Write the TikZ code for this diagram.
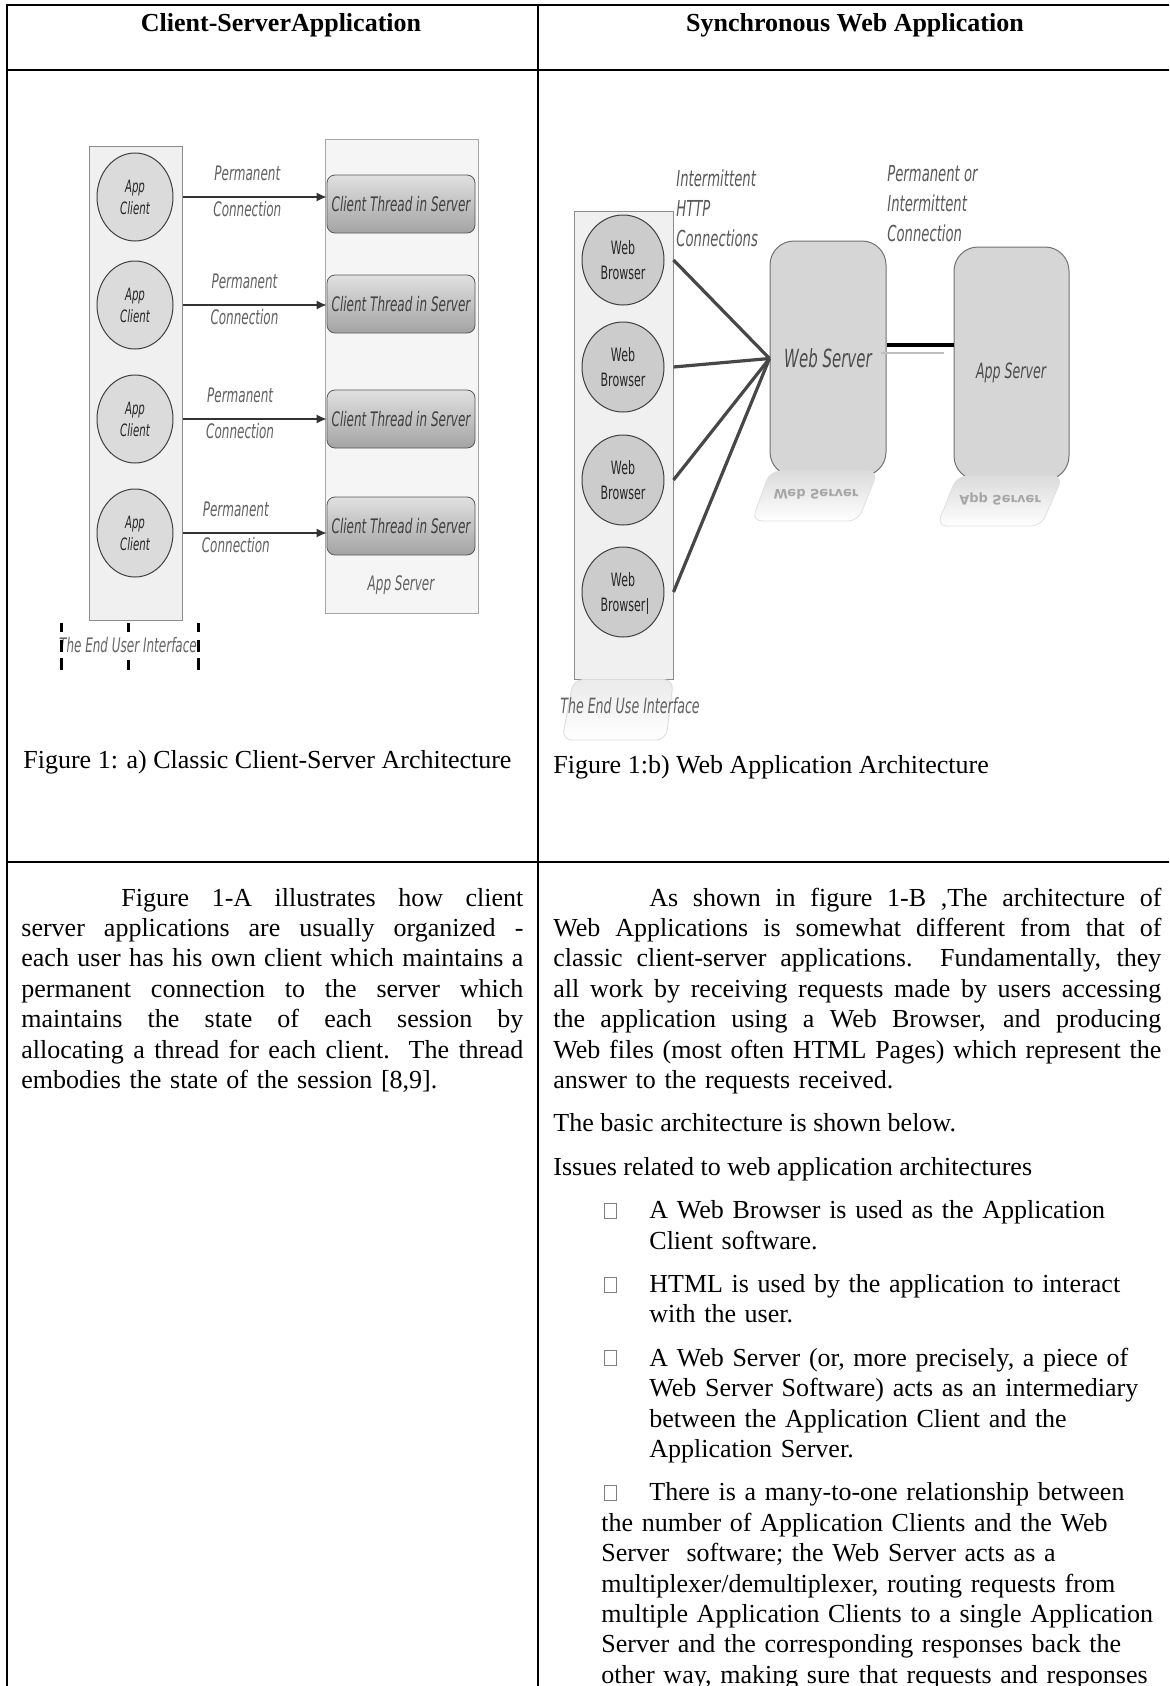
\documentclass[tikz,border=0pt]{standalone}
\usepackage{fontspec}
\setmainfont{Liberation Serif}
\newfontfamily\diafont[FakeStretch=0.6]{DejaVu Sans}
\newfontfamily\ghostfont{DejaVu Sans}
\usetikzlibrary{shapes.geometric,arrows.meta,positioning,calc}
\newcommand{\fullline}[2][251pt]{\makebox[#1][s]{\spaceskip=3.25pt plus 20pt minus 1pt\xspaceskip=\spaceskip #2}\\}
\tikzset{
  rule/.style={line width=1pt, black},
  body/.style={anchor=base west, inner sep=0pt, font=\fontsize{13}{15.2}\selectfont},
  head/.style={inner sep=0pt, font=\bfseries\fontsize{13}{15.2}\selectfont},
  tag/.style={inner sep=0pt, text=black!62, align=left, font=\diafont\itshape\fontsize{10}{15}\selectfont},
  bigtag/.style={tag, anchor=north west, text=black!65, font=\diafont\itshape\fontsize{11}{15}\selectfont},
  column/.style={rectangle, draw=black!45, fill=black!6, line width=0.5pt, inner sep=0pt},
  client/.style={ellipse, draw=black!75, fill=black!14, line width=0.5pt, inner sep=0pt, minimum width=38pt, minimum height=44pt, align=center, text=black!85, font=\diafont\itshape\fontsize{8.5}{11}\selectfont},
  browser/.style={ellipse, draw=black!75, fill=black!20, line width=0.5pt, inner sep=0pt, minimum width=41pt, minimum height=45pt, align=center, text=black!85, font=\diafont\fontsize{9.2}{12.8}\selectfont},
  thread/.style={rectangle, rounded corners=4pt, draw=black!65, top color=black!12, bottom color=black!36, minimum width=74pt, minimum height=29pt, inner sep=0pt, text=black!75, font=\diafont\itshape\fontsize{10}{12}\selectfont},
  link/.style={-{Latex[length=5pt,width=4.5pt]}, black!80, line width=0.6pt},
  http/.style={black!72, line width=1.6pt},
  server/.style={rectangle, rounded corners=12pt, draw=black!55, fill=black!16, line width=0.5pt, inner sep=0pt},
  mirrorpad/.style={rounded corners=5pt, draw=black!12, top color=black!14, bottom color=white, line width=0.4pt},
  ghost/.style={inner sep=0pt, text=black!35, font=\ghostfont\bfseries\fontsize{6.5}{8}\selectfont},
  handle/.style={black, line width=1.5pt},
  bulletbox/.style={draw=black!50, line width=0.35pt, minimum width=6pt, minimum height=7.5pt, inner sep=0pt}
}
\begin{document}
\begin{tikzpicture}[x=0.5pt, y=-0.5pt]
  \useasboundingbox (0,0) rectangle (1169,1686);
  \fill[white] (0,0) rectangle (1169,1686);
  \clip (0,0) rectangle (1169,1686);
  \draw[rule] (1180,5) -- (7,5) -- (7,1700);
  \draw[rule] (538,5) -- (538,1700);
  \draw[rule] (7,70) -- (1180,70);
  \draw[rule] (7,862) -- (1180,862);
  \node[head] (h1) at (281,25) {Client-ServerApplication};
  \node[head] (h2) at (855,25) {Synchronous Web Application};

  \node[column, minimum width=46.5pt, minimum height=236.5pt] (ui) at (135.5,383.5) {};
  \node[column, draw=black!35, fill=black!4, minimum width=76.5pt, minimum height=236.5pt] (appbox) at (401.5,376.5) {};
  \foreach \i/\y in {1/197,2/305,3/419,4/533}
    \node[client] (cli\i) at (135,\y) {App\\Client};
  \foreach \i/\y in {1/204,2/304,3/419,4/526}
    \node[thread] (thr\i) at (401,\y) {Client Thread in Server};
  \foreach \i/\p in {1/0.45,2/0.43,3/0.4,4/0.37}
    \draw[link] (ui.east |- cli\i) -- (thr\i.west |- cli\i)
      node[tag, align=center, pos=\p, yshift=3pt, font=\diafont\itshape\fontsize{10}{18}\selectfont] {Permanent\\Connection};
  \node[tag] (appname) at (401,585) {App Server};
  \node[tag, text=black!60] (uiname) at (128,645) {The End User Interface};
  \draw[handle] (61,623) -- (61,632) (61,640) -- (61,652) (61,658) -- (61,670);
  \draw[handle] (198,623) -- (198,632) (198,640) -- (198,652) (198,658) -- (198,670);
  \draw[handle] (128,623) -- (128,632) (128,660) -- (128,670);

  \node[column, minimum width=49.5pt, minimum height=234pt] (ui2) at (623.5,445) {};
  \draw[mirrorpad, top color=black!8, draw=black!14] (ui2.south west) -- (ui2.south east) -- (666,740) -- (562,740) -- cycle;
  \node[tag, font=\diafont\itshape\fontsize{10.5}{15}\selectfont] (ui2name) at (630,706) {The End Use Interface};
  \foreach \i/\y in {1/260,2/367,3/480,4/592}
    \node[browser] (brw\i) at (623,\y) {Web\\Browser};
  \draw[black!85, line width=0.4pt] ([xshift=12pt,yshift=-3pt]brw4.center) -- ([xshift=12pt,yshift=-11pt]brw4.center);
  \node[server, minimum width=58pt, minimum height=117.5pt, text=black!70, font=\diafont\itshape\fontsize{12.5}{15}\selectfont] (websrv) at (828,358.5) {Web Server};
  \node[server, minimum width=57.5pt, minimum height=116.5pt] (appsrv) at (1011.5,363.5) {};
  \node[tag, text=black!70, font=\diafont\itshape\fontsize{10.5}{15}\selectfont] (aslbl) at (1011,373) {App Server};
  \foreach \i in {1,...,4}
    \draw[http] (brw\i.east -| ui2.east) -- (websrv.west);
  \coordinate (ws) at ([yshift=6.75pt]websrv.east);
  \draw[black, line width=1.6pt] (ws) -- (ws -| appsrv.west);
  \draw[black!25, line width=0.6pt] ($(ws)+(-6,8)$) -- ($(ws -| appsrv.west)+(-10,8)$);
  \draw[mirrorpad] (770,471) -- (878,471) -- (858,521) -- (752,521) -- cycle;
  \node[ghost] (wsmirror) at (816,494) {\scalebox{1}[-1]{Web Server}};
  \draw[mirrorpad] (957,476) -- (1063,476) -- (1041,526) -- (937,526) -- cycle;
  \node[ghost] (asmirror) at (1000,499) {\scalebox{1}[-1]{App Server}};
  \node[bigtag] (httplbl) at (676,169) {Intermittent\\HTTP\\Connections};
  \node[bigtag] (permlbl) at (887,165) {Permanent or\\Intermittent\\Connection};

  \node[body] (cap1) at (23,768) {Figure 1: a) Classic Client-Server Architecture};
  \node[body] (cap2) at (553,773) {Figure 1:b) Web Application Architecture};
  \node[body, text width=251pt] (txtA) at (21,906) {%
    \fullline{\hspace*{50pt}Figure 1-A illustrates how client}
    \fullline{server applications are usually organized -}
    \fullline{each user has his own client which maintains a}
    \fullline{permanent connection to the server which}
    \fullline{maintains the state of each session by}
    \fullline{allocating a thread for each client.\ \ The thread}
    embodies the state of the session [8,9].};
  \node[body, text width=304pt] (txtB) at (553,906) {%
    \fullline[304pt]{\hspace*{48pt}As shown in figure 1-B ,The architecture of}
    \fullline[304pt]{Web Applications is somewhat different from that of}
    \fullline[304pt]{classic client-server applications.\ \ Fundamentally, they}
    \fullline[304pt]{all work by receiving requests made by users accessing}
    \fullline[304pt]{the application using a Web Browser, and producing}
    \fullline[304pt]{Web files (most often HTML Pages) which represent the}
    answer to the requests received.};
  \node[body] (basic) at (553,1131.8) {The basic architecture is shown below.};
  \node[body] (issues) at (553,1175.2) {Issues related to web application architectures};
  \node[body, text width=300pt] (it1) at (649,1218.6) {A Web Browser is used as the Application\\Client software.};
  \node[body, text width=300pt] (it2) at (649,1292.4) {HTML is used by the application to interact\\with the user.};
  \node[body, text width=300pt] (it3) at (649,1366.2) {A Web Server (or, more precisely, a piece of\\Web Server Software) acts as an intermediary\\between the Application Client and the\\Application Server.};
  \node[body, text width=300pt] (it4) at (601,1500.8) {\hspace*{24pt}There is a many-to-one relationship between\\the number of Application Clients and the Web\\Server\ \ software; the Web Server acts as a\\multiplexer/demultiplexer, routing requests from\\multiple Application Clients to a single Application\\Server and the corresponding responses back the\\other way, making sure that requests and responses};
  \foreach \i in {1,2,3}
    \node[bulletbox] (bx\i) at ($(it\i.base west)+(-39,-8)$) {};
  \node[bulletbox] (bx4) at ($(it4.base west)+(9,-8)$) {};
\end{tikzpicture}
\end{document}
